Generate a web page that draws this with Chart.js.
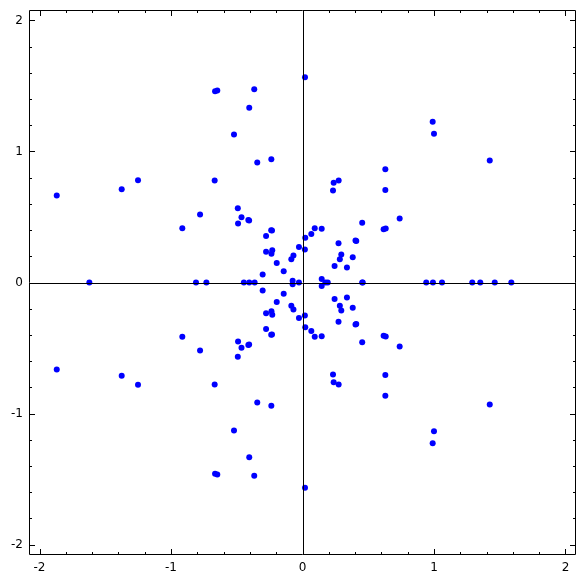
<!DOCTYPE html>
<html>
<head>
<meta charset="utf-8">
<script src="https://cdn.jsdelivr.net/npm/chart.js@4.4.1/dist/chart.umd.min.js"></script>
<style>
  body { margin: 0; background: #fff; }
  #wrap { width: 585px; height: 585px; }
</style>
</head>
<body>
<div id="wrap"><canvas id="rootsChart" width="585" height="585"></canvas></div>
<script>
// real roots (on the x axis)
const realRe = [-1.621, -0.810, -0.731, -0.446, -0.405, -0.364, -0.027, 0.174, 0.192,
                0.454, 0.458, 0.941, 0.992, 1.061, 1.291, 1.352, 1.462, 1.588];

// roots above the axis
const upperRe = [-1.869, -1.375, -1.251, -0.914, -0.779, -0.668, -0.665, -0.648, -0.367, -0.405,
                 -0.521, -0.344, -0.237, 0.019, -0.492, -0.464, -0.490, -0.412, -0.406, -0.238,
                 -0.232, -0.277, -0.277, -0.230, -0.236, -0.196, -0.303, -0.143, -0.085, -0.069,
                 -0.027, 0.021, 0.018, 0.067, 0.093, 0.146, 0.454, 0.274, 0.403, 0.409,
                 0.295, 0.284, 0.382, 0.244, 0.338, 0.146, -0.075, 0.630, 0.630, 0.237,
                 0.275, 0.232, 0.739, 0.617, 0.633, 0.990, 1.000, 1.424];
const upperIm = [0.664, 0.712, 0.781, 0.415, 0.519, 0.779, 1.460, 1.466, 1.476, 1.333,
                 1.130, 0.916, 0.941, 1.567, 0.567, 0.499, 0.450, 0.478, 0.474, 0.398,
                 0.396, 0.354, 0.234, 0.246, 0.219, 0.149, 0.061, 0.085, 0.178, 0.207,
                 0.271, 0.342, 0.251, 0.370, 0.415, 0.410, 0.456, 0.300, 0.320, 0.316,
                 0.214, 0.178, 0.193, 0.126, 0.115, 0.027, 0.014, 0.865, 0.707, 0.761,
                 0.779, 0.702, 0.489, 0.407, 0.412, 1.227, 1.135, 0.931];

// conjugate roots below the axis
const lowerRe = [-1.869, -1.375, -1.251, -0.914, -0.779, -0.668, -0.665, -0.648, -0.367, -0.405,
                 -0.521, -0.344, -0.237, 0.019, -0.492, -0.464, -0.490, -0.412, -0.406, -0.238,
                 -0.232, -0.277, -0.277, -0.230, -0.236, -0.196, -0.303, -0.143, -0.085, -0.069,
                 -0.027, 0.021, 0.018, 0.067, 0.093, 0.146, 0.454, 0.274, 0.403, 0.409,
                 0.295, 0.284, 0.382, 0.244, 0.338, 0.146, -0.075, 0.630, 0.630, 0.237,
                 0.275, 0.232, 0.739, 0.617, 0.633, 0.990, 1.000, 1.424];
const lowerIm = [-0.664, -0.712, -0.781, -0.415, -0.519, -0.779, -1.460, -1.466, -1.476, -1.333,
                 -1.130, -0.916, -0.941, -1.567, -0.567, -0.499, -0.450, -0.478, -0.474, -0.398,
                 -0.396, -0.354, -0.234, -0.246, -0.219, -0.149, -0.061, -0.085, -0.178, -0.207,
                 -0.271, -0.342, -0.251, -0.370, -0.415, -0.410, -0.456, -0.300, -0.320, -0.316,
                 -0.214, -0.178, -0.193, -0.126, -0.115, -0.027, -0.014, -0.865, -0.707, -0.761,
                 -0.779, -0.702, -0.489, -0.407, -0.412, -1.227, -1.135, -0.931];

const tickValues = [-2, -1, 0, 1, 2];
const axisMin = -2.08, axisMax = 2.08;

const points = [];
realRe.forEach(x => points.push({ x: x, y: 0 }));
upperRe.forEach((x, i) => points.push({ x: x, y: upperIm[i] }));
lowerRe.forEach((x, i) => points.push({ x: x, y: lowerIm[i] }));

// frame with inward ticks, and the two axes through the origin
const framePlugin = {
    id: 'frame',
    afterDraw(chart) {
        const ctx = chart.ctx;
        const a = chart.chartArea;
        const xs = chart.scales.x, ys = chart.scales.y;
        ctx.save();
        ctx.strokeStyle = '#000';
        ctx.lineWidth = 1;
        ctx.beginPath();
        ctx.rect(a.left + 0.5, a.top + 0.5, a.right - a.left - 1, a.bottom - a.top - 1);
        const x0 = Math.round(xs.getPixelForValue(0)) + 0.5;
        const y0 = Math.round(ys.getPixelForValue(0)) + 0.5;
        ctx.moveTo(x0, a.top); ctx.lineTo(x0, a.bottom);
        ctx.moveTo(a.left, y0); ctx.lineTo(a.right, y0);
        for (let k = -10; k <= 10; k++) {
            const v = k / 5;
            const len = (k % 5 === 0) ? 6 : 3;
            const px = Math.round(xs.getPixelForValue(v)) + 0.5;
            const py = Math.round(ys.getPixelForValue(v)) + 0.5;
            ctx.moveTo(px, a.bottom); ctx.lineTo(px, a.bottom - len);
            ctx.moveTo(px, a.top); ctx.lineTo(px, a.top + len);
            ctx.moveTo(a.left, py); ctx.lineTo(a.left + len, py);
            ctx.moveTo(a.right, py); ctx.lineTo(a.right - len, py);
        }
        ctx.stroke();
        ctx.restore();
    }
};

const setTicks = scale => { scale.ticks = tickValues.map(v => ({ value: v })); };

new Chart(document.getElementById('rootsChart').getContext('2d'), {
    type: 'scatter',
    data: {
        datasets: [{
            data: points,
            backgroundColor: '#0000ff',
            borderWidth: 0,
            pointRadius: 3,
            pointHoverRadius: 3
        }]
    },
    options: {
        responsive: false,
        animation: false,
        layout: { padding: { top: 10, right: 9, left: 0, bottom: 0 } },
        plugins: { legend: { display: false }, tooltip: { enabled: false } },
        scales: {
            x: {
                type: 'linear',
                min: axisMin,
                max: axisMax,
                afterBuildTicks: setTicks,
                afterFit: s => { s.height = 30; s.paddingLeft = 0; s.paddingRight = 0; },
                grid: { display: false, drawTicks: false, tickLength: 0 },
                border: { display: false },
                ticks: { color: '#000', padding: 6, maxRotation: 0, font: { family: 'DejaVu Sans', size: 12 } }
            },
            y: {
                type: 'linear',
                min: axisMin,
                max: axisMax,
                afterBuildTicks: setTicks,
                afterFit: s => { s.width = 29; s.paddingTop = 0; s.paddingBottom = 0; },
                grid: { display: false, drawTicks: false, tickLength: 0 },
                border: { display: false },
                ticks: { color: '#000', padding: 6, font: { family: 'DejaVu Sans', size: 12 } }
            }
        }
    },
    plugins: [framePlugin]
});
</script>
</body>
</html>
